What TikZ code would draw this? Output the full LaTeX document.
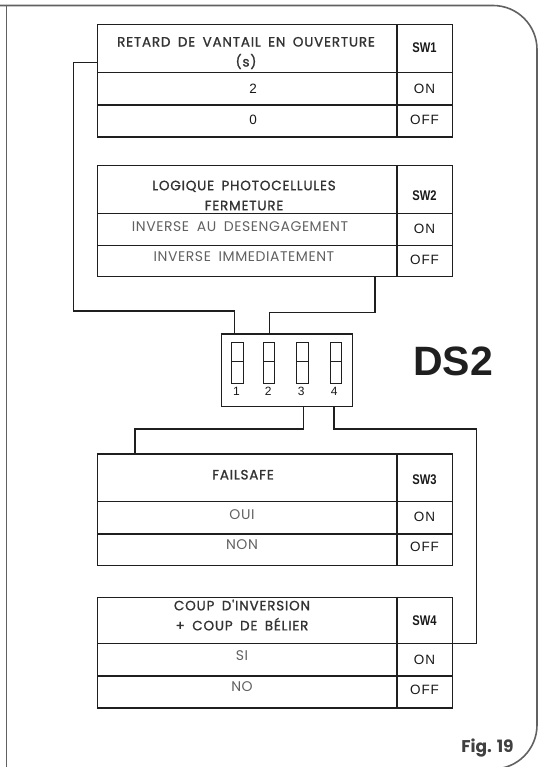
\documentclass[tikz,border=0pt]{standalone}
\usepackage{fontspec}
\setmainfont{Liberation Sans}
\newfontfamily\gothic{Poppins}
\newfontfamily\gothichd[LetterSpace=6, FakeBold=1.2]{Poppins}
\newfontfamily\gothicsp[LetterSpace=4]{Poppins}
\newfontfamily\arialsp[LetterSpace=6]{Liberation Sans}
\usetikzlibrary{calc}
\newcommand\wsp{\hskip 0.55em\relax}
\begin{document}
\begin{tikzpicture}[x=1pt,y=-1pt,
  tbl/.style={draw=black!88, line width=1.2pt, inner sep=0pt, minimum width=355pt, anchor=north west},
  inl/.style={line width=1.2pt, draw=black!88},
  hd/.style={font=\gothichd\fontsize{13.5}{20}\selectfont, text=black!80, align=center, inner sep=0pt},
  rowtxt/.style={font=\gothicsp\fontsize{14}{16}\selectfont, text=black!62, inner sep=0pt},
  swl/.style={font=\bfseries\fontsize{14}{15}\selectfont, text=black!90, inner sep=0pt},
  val/.style={font=\arialsp\fontsize{13.5}{15}\selectfont, text=black!90, inner sep=0pt},
  num/.style={font=\fontsize{12}{13}\selectfont, text=black!90, inner sep=0pt},
  wire/.style={line width=1.2pt, draw=black!88},
  frame/.style={line width=1.6pt, draw=black!62},
  swbox/.style={line width=0.9pt, draw=black!88}]

\useasboundingbox (0,0) rectangle (538,767);
\clip (0,0) rectangle (538,767);

% outer frame
\draw[frame, rounded corners=44pt] (0,5.5) -- (537,5.5) -- (537,769) -- (440,769);
\draw[frame] (6.5,5.5) -- (6.5,767);

% ---------- table 1
\node[tbl, minimum height=112.2pt] (t1) at (97,24.3) {};
\draw[inl] (397,24.3) -- (397,136.5);
\draw[inl] (97,72.7) -- (452,72.7);
\draw[inl] (97,105) -- (452,105);
\node[hd] (t1h) at (246,53) {RETARD\wsp DE\wsp VANTAIL\wsp EN\wsp OUVERTURE\\(s)};
\node[swl] (t1s) at (424.5,47.5) {\scalebox{0.8}[1]{SW1}};
\node[val] (t1r1) at (253,88.8) {2};
\node[val] (t1v1) at (424.5,88.8) {ON};
\node[val] (t1r2) at (253,120.3) {0};
\node[val] (t1v2) at (424.5,120.3) {OFF};

% ---------- table 2
\node[tbl, minimum height=111pt] (t2) at (97,165) {};
\draw[inl] (397,165) -- (397,276);
\draw[inl] (97,213.3) -- (452,213.3);
\draw[inl] (97,245.7) -- (452,245.7);
\node[hd] (t2h) at (244,195.5) {LOGIQUE\wsp PHOTOCELLULES\\FERMETURE};
\node[swl] (t2s) at (424.5,196) {\scalebox{0.8}[1]{SW2}};
\node[rowtxt] (t2r1) at (240,226.3) {INVERSE\wsp AU\wsp DESENGAGEMENT};
\node[val] (t2v1) at (424.5,228.7) {ON};
\node[rowtxt] (t2r2) at (244,256.8) {INVERSE\wsp IMMEDIATEMENT};
\node[val] (t2v2) at (424.5,260) {OFF};

% ---------- DIP switch
\node[swbox, line width=1.2pt, minimum width=130.7pt, minimum height=72.7pt, inner sep=0pt, anchor=north west] (ds) at (221,333.3) {};
\foreach \i/\x in {1/231.7,2/263.3,3/296.7,4/330} {
  \draw[swbox] (\x,342.7) rectangle (\x+11.6,383.3);
  \draw[swbox] (\x,361) -- (\x+11.6,361);
}
\node[num] (n1) at (236.5,391.5) {1};
\node[num] (n2) at (268.3,391.5) {2};
\node[num] (n3) at (301.3,391.5) {3};
\node[num] (n4) at (334.2,391.5) {4};
\node[font=\bfseries\fontsize{41}{41}\selectfont, text=black!88, inner sep=0pt] (dsl) at (453,361) {DS2};

% ---------- table 3
\node[tbl, minimum height=111.7pt] (t3) at (97,453.3) {};
\draw[inl] (397,453.3) -- (397,565);
\draw[inl] (97,501.7) -- (452,501.7);
\draw[inl] (97,534) -- (452,534);
\node[hd] (t3h) at (243,474.7) {FAILSAFE};
\node[swl] (t3s) at (424.5,479.5) {\scalebox{0.8}[1]{SW3}};
\node[rowtxt] (t3r1) at (242,515) {OUI};
\node[val] (t3v1) at (424.5,516.7) {ON};
\node[rowtxt] (t3r2) at (242,544.2) {NON};
\node[val] (t3v2) at (424.5,546.7) {OFF};

% ---------- table 4
\node[tbl, minimum height=110.6pt] (t4) at (97,596.7) {};
\draw[inl] (397,596.7) -- (397,707.3);
\draw[inl] (97,643.3) -- (452,643.3);
\draw[inl] (97,676) -- (452,676);
\node[hd] (t4h) at (242,615) {COUP\wsp D'INVERSION\\+\wsp COUP\wsp DE\wsp BÉLIER};
\node[swl] (t4s) at (424.5,621) {\scalebox{0.8}[1]{SW4}};
\node[rowtxt] (t4r1) at (242,656) {SI};
\node[val] (t4v1) at (424.5,660) {ON};
\node[rowtxt] (t4r2) at (242,686.7) {NO};
\node[val] (t4v2) at (424.5,690) {OFF};

% ---------- connectors
\coordinate (c1) at ($(t1.north west)+(0,38.4)$);
\coordinate (d1) at ($(ds.north west)+(13.3,0)$);
\draw[wire] (c1) -| (73.3,311) -| (d1);

\coordinate (c2) at ($(t2.south west)+(278,0)$);
\coordinate (d2) at ($(ds.north west)+(48.3,0)$);
\draw[wire] (c2) -- ++(0,35) -| (d2);

\coordinate (d3) at ($(ds.south west)+(82.3,0)$);
\coordinate (e3) at ($(t3.north west)+(38,0)$);
\draw[wire] (d3) -- ++(0,21.7) -| (e3);

\coordinate (d4) at ($(ds.south west)+(113,0)$);
\coordinate (e4) at ($(t4.north east)+(0,46.6)$);
\draw[wire] (d4) -- ++(0,21.7) -| ($(e4)+(23,0)$) -- (e4);

% ---------- figure label
\node[font=\gothic\bfseries\fontsize{17}{17}\selectfont, text=black!75, inner sep=0pt] (fig) at (487.5,748) {Fig. 19};
\end{tikzpicture}
\end{document}
